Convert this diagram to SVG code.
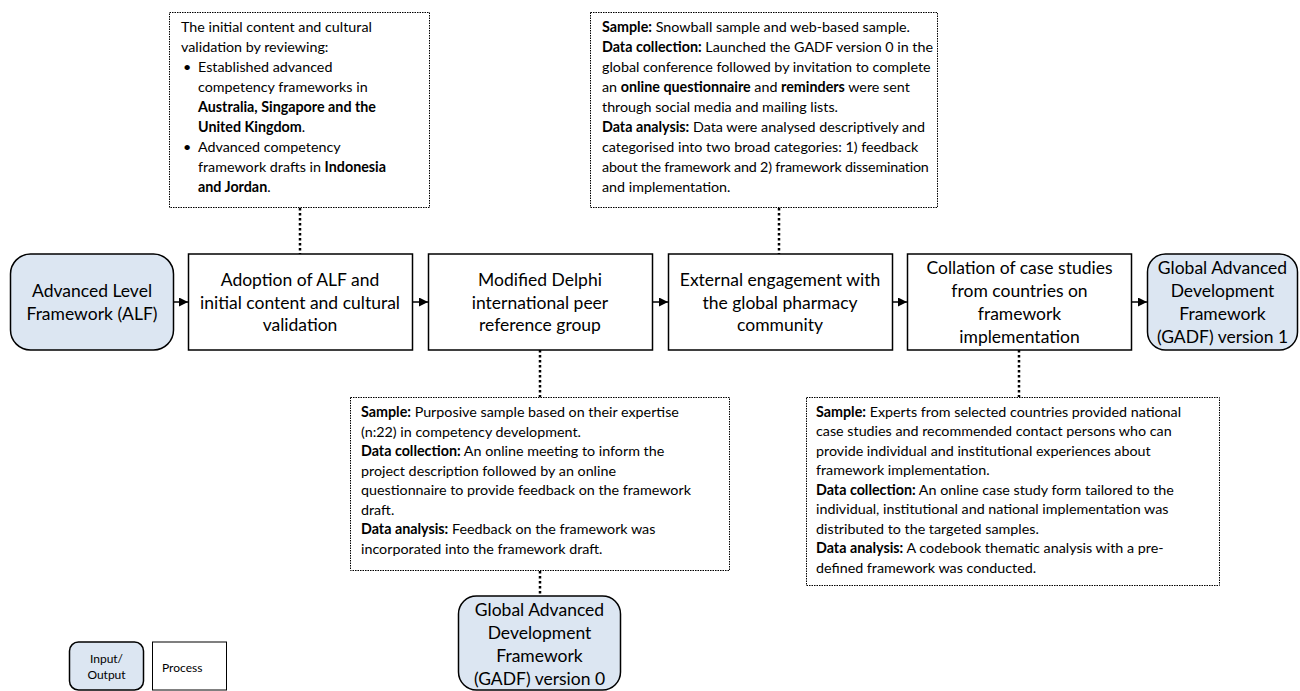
<svg xmlns="http://www.w3.org/2000/svg" width="1300" height="691" viewBox="0 0 1300 691">
<defs>
<marker id="arr" markerUnits="userSpaceOnUse" markerWidth="9" markerHeight="9" refX="9" refY="4.5" orient="auto">
<path d="M0,0 L9,4.5 L0,9 z" fill="#000"/>
</marker>
<style>
.io{fill:#dce6f2;stroke:#000;stroke-width:1.5}
.proc{fill:#fff;stroke:#000;stroke-width:1.5}
.note{fill:#fff;stroke:#000;stroke-width:1;stroke-dasharray:1.5 1}
.main{font-family:Lato,"Liberation Sans",sans-serif;font-size:17.5px;fill:#000;text-anchor:middle}
.nt{font-family:Lato,"Liberation Sans",sans-serif;font-size:14.3px;fill:#000}
.tight{letter-spacing:-0.2px}
.b{font-weight:bold}
.lg{font-family:Lato,"Liberation Sans",sans-serif;font-size:12px;fill:#000}
.dot{stroke:#000;stroke-width:2.5;stroke-dasharray:2.5 2.5;fill:none}
.arrow{stroke:#000;stroke-width:1.5;fill:none;marker-end:url(#arr)}
</style>
</defs>

<g id="connectors">
<line class="arrow" x1="173" y1="302" x2="188" y2="302"/>
<line class="arrow" x1="412" y1="302" x2="428" y2="302"/>
<line class="arrow" x1="652" y1="302" x2="668" y2="302"/>
<line class="arrow" x1="892" y1="302" x2="907" y2="302"/>
<line class="arrow" x1="1132" y1="302" x2="1147" y2="302"/>
<line class="dot" x1="300" y1="208" x2="300" y2="254"/>
<line class="dot" x1="779" y1="208" x2="779" y2="254"/>
<line class="dot" x1="540" y1="350" x2="540" y2="397"/>
<line class="dot" x1="540" y1="571" x2="540" y2="596"/>
<line class="dot" x1="1019" y1="350" x2="1019" y2="397"/>
</g>

<g id="note-adoption">
<rect class="note" x="169.5" y="12.5" width="260" height="195"/>
<text class="nt" x="181" y="32">The initial content and cultural</text>
<text class="nt" x="181" y="52">validation by reviewing:</text>
<text class="nt" x="183" y="72">•</text><text class="nt" x="198" y="72">Established advanced</text>
<text class="nt" x="198" y="92">competency frameworks in</text>
<text class="nt b" x="198" y="112">Australia, Singapore and the</text>
<text class="nt" x="198" y="132"><tspan class="b">United Kingdom</tspan>.</text>
<text class="nt" x="183" y="152">•</text><text class="nt" x="198" y="152">Advanced competency</text>
<text class="nt" x="198" y="172">framework drafts in <tspan class="b">Indonesia</tspan></text>
<text class="nt" x="198" y="192"><tspan class="b">and Jordan</tspan>.</text>
</g>

<g id="note-external">
<rect class="note" x="590.5" y="12.5" width="347" height="195"/>
<text class="nt" x="602" y="32"><tspan class="b">Sample:</tspan> Snowball sample and web-based sample.</text>
<text class="nt" x="602" y="52"><tspan class="b">Data collection:</tspan> Launched the GADF version 0 in the</text>
<text class="nt" x="602" y="72">global conference followed by invitation to complete</text>
<text class="nt" x="602" y="92">an <tspan class="b">online questionnaire</tspan> and <tspan class="b">reminders</tspan> were sent</text>
<text class="nt" x="602" y="112">through social media and mailing lists.</text>
<text class="nt" x="602" y="132"><tspan class="b">Data analysis:</tspan> Data were analysed descriptively and</text>
<text class="nt" x="602" y="152">categorised into two broad categories: 1) feedback</text>
<text class="nt tight" x="602" y="172">about the framework and 2) framework dissemination</text>
<text class="nt" x="602" y="192">and implementation.</text>
</g>

<g id="node-alf">
<rect class="io" x="10.5" y="254" width="163" height="96" rx="20"/>
<text class="main" x="92" y="297">Advanced Level</text>
<text class="main" x="92" y="320">Framework (ALF)</text>
</g>

<g id="node-adoption">
<rect class="proc" x="188.5" y="254" width="224" height="96"/>
<text class="main" x="300" y="286">Adoption of ALF and</text>
<text class="main" x="300" y="309">initial content and cultural</text>
<text class="main" x="300" y="331">validation</text>
</g>

<g id="node-delphi">
<rect class="proc" x="428.5" y="254" width="224" height="96"/>
<text class="main" x="540" y="286">Modified Delphi</text>
<text class="main" x="540" y="309">international peer</text>
<text class="main" x="540" y="331">reference group</text>
</g>

<g id="node-external">
<rect class="proc" x="668.5" y="254" width="224" height="96"/>
<text class="main" x="780" y="286">External engagement with</text>
<text class="main" x="780" y="309">the global pharmacy</text>
<text class="main" x="780" y="331">community</text>
</g>

<g id="node-collation">
<rect class="proc" x="907.5" y="254" width="224" height="96"/>
<text class="main" x="1019.5" y="274">Collation of case studies</text>
<text class="main" x="1019.5" y="297">from countries on</text>
<text class="main" x="1019.5" y="320">framework</text>
<text class="main" x="1019.5" y="343">implementation</text>
</g>

<g id="node-gadf1">
<rect class="io" x="1147.5" y="254" width="150" height="96" rx="18"/>
<text class="main" x="1222.5" y="274">Global Advanced</text>
<text class="main" x="1222.5" y="297">Development</text>
<text class="main" x="1222.5" y="320">Framework</text>
<text class="main" x="1222.5" y="343">(GADF) version 1</text>
</g>

<g id="note-delphi">
<rect class="note" x="350.5" y="397.5" width="379" height="173"/>
<text class="nt" x="361" y="417"><tspan class="b">Sample:</tspan> Purposive sample based on their expertise</text>
<text class="nt" x="361" y="437">(n:22) in competency development.</text>
<text class="nt" x="361" y="456"><tspan class="b">Data collection:</tspan> An online meeting to inform the</text>
<text class="nt" x="361" y="476">project description followed by an online</text>
<text class="nt" x="361" y="495">questionnaire to provide feedback on the framework</text>
<text class="nt" x="361" y="515">draft.</text>
<text class="nt" x="361" y="534"><tspan class="b">Data analysis:</tspan> Feedback on the framework was</text>
<text class="nt" x="361" y="554">incorporated into the framework draft.</text>
</g>

<g id="note-collation">
<rect class="note" x="806.5" y="397.5" width="413" height="188"/>
<text class="nt" x="816" y="417"><tspan class="b">Sample:</tspan> Experts from selected countries provided national</text>
<text class="nt" x="816" y="436">case studies and recommended contact persons who can</text>
<text class="nt" x="816" y="456">provide individual and institutional experiences about</text>
<text class="nt" x="816" y="475">framework implementation.</text>
<text class="nt" x="816" y="495"><tspan class="b">Data collection:</tspan> An online case study form tailored to the</text>
<text class="nt" x="816" y="514">individual, institutional and national implementation was</text>
<text class="nt" x="816" y="534">distributed to the targeted samples.</text>
<text class="nt" x="816" y="553"><tspan class="b">Data analysis:</tspan> A codebook thematic analysis with a pre-</text>
<text class="nt" x="816" y="573">defined framework was conducted.</text>
</g>

<g id="node-gadf0">
<rect class="io" x="458.5" y="596" width="162" height="94" rx="18"/>
<text class="main" x="539.5" y="616">Global Advanced</text>
<text class="main" x="539.5" y="639">Development</text>
<text class="main" x="539.5" y="662">Framework</text>
<text class="main" x="539.5" y="685">(GADF) version 0</text>
</g>

<g id="legend">
<rect class="io" x="69.5" y="642" width="74" height="48" rx="9"/>
<text class="lg" x="106.5" y="663" text-anchor="middle">Input/</text>
<text class="lg" x="106.5" y="679" text-anchor="middle">Output</text>
<rect class="proc" x="152.5" y="642" width="74" height="48" style="stroke-width:1"/>
<text class="lg" x="162" y="672">Process</text>
</g>
</svg>
